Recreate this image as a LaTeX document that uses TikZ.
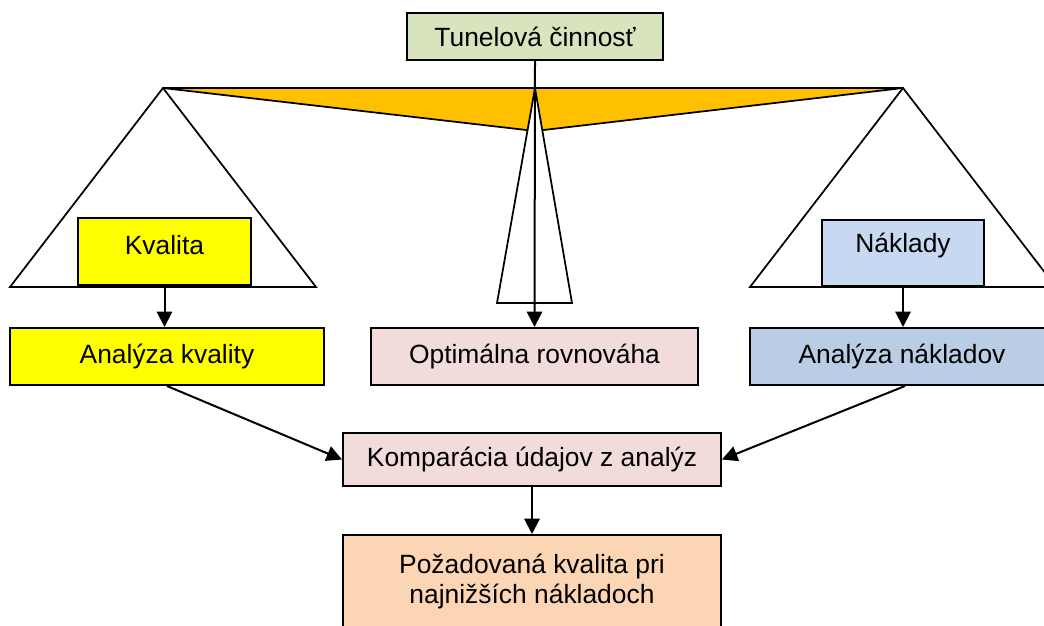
\documentclass[tikz,border=0pt]{standalone}
\usepackage{fontspec}
\setmainfont{Liberation Sans}
\usetikzlibrary{arrows.meta,calc}
\definecolor{tungreen}{HTML}{D7E4BD}
\definecolor{beamorange}{HTML}{FFC000}
\definecolor{kvalyellow}{HTML}{FFFF00}
\definecolor{optpink}{HTML}{F2DCDB}
\definecolor{naklblue}{HTML}{C6D9F1}
\definecolor{ankblue}{HTML}{B9CDE5}
\definecolor{pozpeach}{HTML}{FCD5B5}
\begin{document}
\begin{tikzpicture}[x=0.75pt,y=-0.75pt,
  font=\fontsize{19.8}{22.5}\selectfont,
  box/.style={draw, line width=1.5pt, rectangle, inner sep=0pt, align=center},
  tri/.style={draw, line width=1.3pt, line join=miter},
  arr/.style={line width=1.5pt, -{Triangle[length=11.5pt,width=11.5pt]}}]
\useasboundingbox (0,0) rectangle (1044,625);
\clip (0,0) rectangle (1044,625);
% beam of the balance
\filldraw[tri, fill=beamorange] (163,88) -- (903,88) -- (535,131) -- cycle;
% needle
\filldraw[tri, fill=white] (535,88) -- (572,303) -- (497,303) -- cycle;
% side pans
\draw[tri] (163,88) -- (316,287) -- (10,287) -- cycle;
\draw[tri] (903,88) -- (1056,287) -- (750,287) -- cycle;
% boxes
\node[box, fill=tungreen, minimum width=192pt, minimum height=35.25pt] (tun) at (535,36.5) {Tunelová činnosť};
\node[box, fill=kvalyellow, minimum width=129.75pt, minimum height=50.25pt,
  label={[yshift=4.5pt]center:Kvalita}] (kval) at (164.5,251.5) {};
\node[box, fill=naklblue, minimum width=121.5pt, minimum height=49.5pt,
  label={[yshift=5.25pt]center:Náklady}] (nakl) at (903,253) {};
\node[box, fill=kvalyellow, minimum width=235.5pt, minimum height=42.75pt] (akv) at (167,356.5) {Analýza kvality};
\node[box, fill=optpink, minimum width=245.25pt, minimum height=42.75pt] (opt) at (534.5,356.5) {Optimálna rovnováha};
\node[box, fill=ankblue, minimum width=232.5pt, minimum height=42.75pt,
  label={[xshift=-2.25pt]center:Analýza nákladov}] (ank) at (905,356.5) {};
\node[box, fill=optpink, minimum width=283.5pt, minimum height=39.75pt] (komp) at (532,459.5) {Komparácia údajov z analýz};
\node[box, fill=pozpeach, minimum width=283.5pt, minimum height=86.25pt,
  label={[yshift=8.6pt, align=center]center:{Požadovaná kvalita pri\\najnižších nákladoch}}] (poz) at (532,592.5) {};
% connectors
\draw[arr] (tun.south) -- (opt.north);
\draw[arr] (kval.south) -- (kval.south |- akv.north);
\draw[arr] (nakl.south) -- (nakl.south |- ank.north);
\draw[arr] (akv.south) -- (komp.west);
\draw[arr] (ank.south) -- (komp.east);
\draw[arr] (komp.south) -- (poz.north);
\end{tikzpicture}
\end{document}
